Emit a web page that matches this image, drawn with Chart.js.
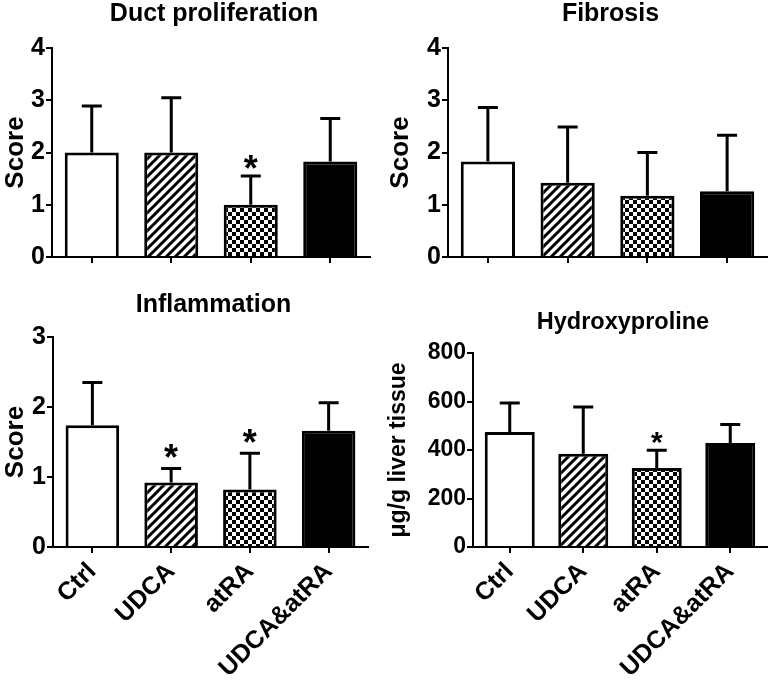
<!DOCTYPE html>
<html>
<head>
<meta charset="utf-8">
<script src="https://cdn.jsdelivr.net/npm/chart.js@4.4.1/dist/chart.umd.min.js"></script>
<style>
  html, body { margin:0; padding:0; background:#fff; }
  body { width:771px; height:681px; position:relative; overflow:hidden; }
  .panel { position:absolute; }
</style>
</head>
<body>
<div class="panel" style="left:0;top:0;width:385px;height:280px"><canvas id="c1" width="385" height="280"></canvas></div>
<div class="panel" style="left:385px;top:0;width:386px;height:280px"><canvas id="c2" width="386" height="280"></canvas></div>
<div class="panel" style="left:0;top:280px;width:385px;height:401px"><canvas id="c3" width="385" height="401"></canvas></div>
<div class="panel" style="left:385px;top:280px;width:386px;height:401px"><canvas id="c4" width="386" height="401"></canvas></div>
<script>
// ---- data ----
const categories = ['Ctrl', 'UDCA', 'atRA', 'UDCA&atRA'];

const ductMean = [2.0, 2.0, 1.0, 1.83];
const ductSD   = [0.89, 1.05, 0.55, 0.82];
const ductSig  = [false, false, true, false];

const fibrosisMean = [1.83, 1.42, 1.17, 1.26];
const fibrosisSD   = [1.03, 1.07, 0.83, 1.07];
const fibrosisSig  = [false, false, false, false];

const inflMean = [1.74, 0.92, 0.82, 1.66];
const inflSD   = [0.61, 0.20, 0.52, 0.40];
const inflSig  = [false, true, true, false];

const hydroMean = [474, 385, 326, 429];
const hydroSD   = [120, 192, 73, 76];
const hydroSig  = [false, false, true, false];

const scoreTicks = [0, 1, 2, 3, 4];
const inflTicks  = [0, 1, 2, 3];
const hydroTicks = [0, 200, 400, 600, 800];

// ---- patterns ----
const FONT = "'Liberation Sans', Arial, sans-serif";
function hatchPattern() {
  const s = 9, c = document.createElement('canvas');
  c.width = s; c.height = s;
  const g = c.getContext('2d');
  g.fillStyle = '#fff'; g.fillRect(0, 0, s, s);
  g.strokeStyle = '#000'; g.lineWidth = 3;
  g.beginPath();
  g.moveTo(-s, 2 * s); g.lineTo(2 * s, -s);
  g.moveTo(-s, s); g.lineTo(s, -s);
  g.moveTo(0, 2 * s); g.lineTo(2 * s, 0);
  g.stroke();
  return g.createPattern(c, 'repeat');
}
function checkerPattern() {
  const s = 4, c = document.createElement('canvas');
  c.width = 2 * s; c.height = 2 * s;
  const g = c.getContext('2d');
  g.fillStyle = '#fff'; g.fillRect(0, 0, 2 * s, 2 * s);
  g.fillStyle = '#000';
  g.fillRect(0, 0, s, s); g.fillRect(s, s, s, s);
  return g.createPattern(c, 'repeat');
}
const fills = ['#ffffff', hatchPattern(), checkerPattern(), '#000000'];

// ---- panel title centred over the plot area ----
const panelTitle = {
  id: 'panelTitle',
  afterDraw(chart, args, opts) {
    const ctx = chart.ctx, a = chart.chartArea;
    ctx.save();
    ctx.fillStyle = '#000';
    ctx.font = 'bold ' + opts.size + 'px ' + FONT;
    ctx.textAlign = 'center'; ctx.textBaseline = 'alphabetic';
    ctx.fillText(opts.text, (a.left + a.right) / 2 + 3, opts.baseline);
    ctx.restore();
  }
};

// ---- error bars + significance plugin ----
const errPlugin = {
  id: 'errbars',
  afterDatasetsDraw(chart, args, opts) {
    const ctx = chart.ctx, ys = chart.scales.y;
    const meta = chart.getDatasetMeta(0);
    ctx.save();
    ctx.strokeStyle = '#000'; ctx.lineWidth = 3; ctx.lineCap = 'butt';
    opts.mean.forEach((m, i) => {
      const x = meta.data[i].x;
      const yb = ys.getPixelForValue(m);
      const yt = ys.getPixelForValue(m + opts.sd[i]);
      ctx.beginPath();
      ctx.moveTo(x, yb); ctx.lineTo(x, yt);
      ctx.moveTo(x - 10, yt); ctx.lineTo(x + 10, yt);
      ctx.stroke();
      if (opts.sig[i]) {
        ctx.fillStyle = '#000';
        ctx.font = 'bold ' + opts.starSize + 'px ' + FONT;
        ctx.textAlign = 'center'; ctx.textBaseline = 'alphabetic';
        ctx.fillText('*', x, yt - opts.starGap + 0.57 * opts.starSize);
      }
    });
    ctx.restore();
  }
};

function makeChart(id, cfg) {
  const tickFont = { family: FONT, size: cfg.tickSize, weight: 'bold' };
  return new Chart(document.getElementById(id), {
    type: 'bar',
    data: {
      labels: categories,
      datasets: [{
        data: cfg.mean,
        backgroundColor: fills,
        borderColor: '#000',
        borderWidth: 3,
        borderSkipped: 'start',
        barPercentage: cfg.barPct,
        categoryPercentage: 1
      }]
    },
    options: {
      responsive: false,
      animation: false,
      events: [],
      layout: { padding: { left: 0, right: cfg.padRight, top: cfg.top, bottom: 0 } },
      plugins: {
        legend: { display: false },
        tooltip: { enabled: false },
        title: { display: false },
        panelTitle: { text: cfg.title, size: cfg.titleSize, baseline: cfg.titleBase },
        errbars: { mean: cfg.mean, sd: cfg.sd, sig: cfg.sig, starSize: cfg.starSize, starGap: cfg.starGap }
      },
      scales: {
        x: {
          grid: { offset: false, drawOnChartArea: false, drawTicks: true, tickLength: 6, color: '#000', lineWidth: 2 },
          border: { display: true, color: '#000', width: 2 },
          ticks: {
            display: cfg.showX, color: '#000', font: { family: FONT, size: 25, weight: 'bold' },
            minRotation: 45, maxRotation: 45, padding: 4, autoSkip: false
          },
          afterFit(s) { s.height = cfg.xHeight; }
        },
        y: {
          min: cfg.yTicks[0], max: cfg.yTicks[cfg.yTicks.length - 1],
          afterBuildTicks(s) { s.ticks = cfg.yTicks.map(v => ({ value: v })); },
          grid: { drawOnChartArea: false, drawTicks: true, tickLength: 6, color: '#000', lineWidth: 2 },
          border: { display: true, color: '#000', width: 2 },
          ticks: { color: '#000', font: tickFont, padding: 1 },
          title: {
            display: true, text: cfg.yTitle, color: '#000',
            font: { family: FONT, size: cfg.yTitleSize, weight: 'bold' }, padding: { top: 0, bottom: 0 }
          },
          afterFit(s) { s.width = cfg.yWidth; }
        }
      }
    },
    plugins: [errPlugin, panelTitle]
  });
}

makeChart('c1', {
  title: 'Duct proliferation', titleSize: 25, titleBase: 21, top: 48,
  mean: ductMean, sd: ductSD, sig: ductSig, yTicks: scoreTicks, yTitle: 'Score', yTitleSize: 26,
  tickSize: 25, yWidth: 52, xHeight: 23, padRight: 15, showX: false, barPct: 0.68, starSize: 36, starGap: 16
});
makeChart('c2', {
  title: 'Fibrosis', titleSize: 25, titleBase: 21, top: 48,
  mean: fibrosisMean, sd: fibrosisSD, sig: fibrosisSig, yTicks: scoreTicks, yTitle: 'Score', yTitleSize: 26,
  tickSize: 25, yWidth: 63, xHeight: 23, padRight: 4, showX: false, barPct: 0.68, starSize: 36, starGap: 16
});
makeChart('c3', {
  title: 'Inflammation', titleSize: 25, titleBase: 32, top: 57,
  mean: inflMean, sd: inflSD, sig: inflSig, yTicks: inflTicks, yTitle: 'Score', yTitleSize: 26,
  tickSize: 25, yWidth: 53, xHeight: 134, padRight: 17, showX: true, barPct: 0.68, starSize: 36, starGap: 19
});
makeChart('c4', {
  title: 'Hydroxyproline', titleSize: 23.5, titleBase: 49, top: 73,
  mean: hydroMean, sd: hydroSD, sig: hydroSig, yTicks: hydroTicks, yTitle: 'μg/g liver tissue', yTitleSize: 23,
  tickSize: 23, yWidth: 88, xHeight: 134, padRight: 4, showX: true, barPct: 0.68, starSize: 30, starGap: 15
});
</script>
</body>
</html>
